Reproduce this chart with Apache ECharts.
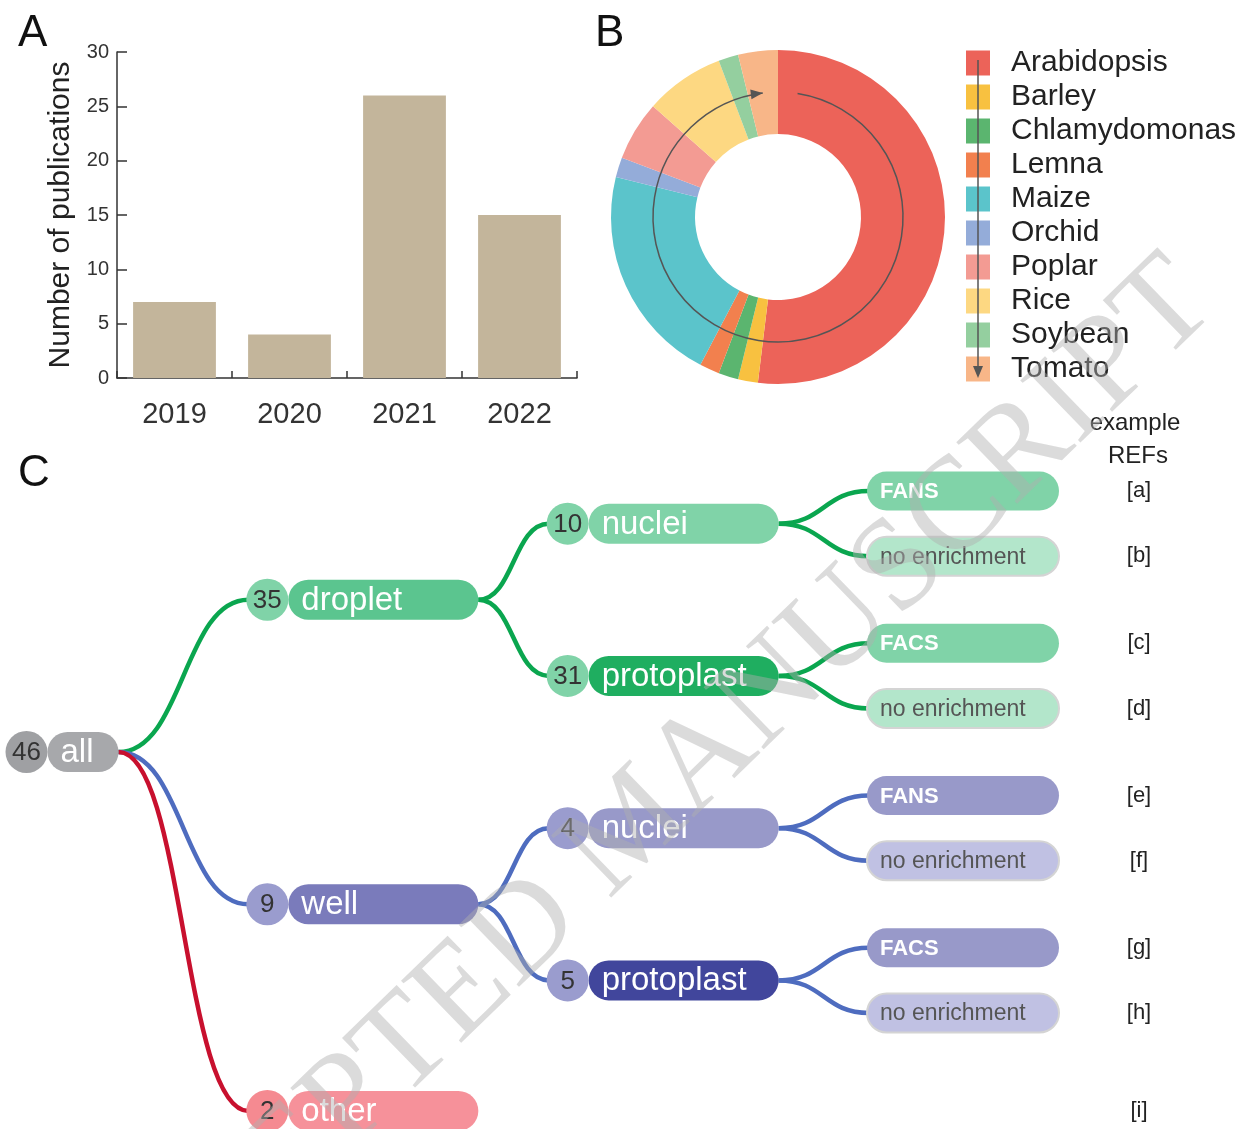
<!DOCTYPE html>
<html>
<head>
<meta charset="utf-8">
<script src="https://cdn.jsdelivr.net/npm/echarts@6.0.0/dist/echarts.min.js"></script>
<style>
  html, body { margin: 0; padding: 0; background: #fff; }
  #main { width: 1237px; height: 1129px; }
</style>
</head>
<body>
<div id="main"></div>
<script>
// A: publications per year
var years = ['2019', '2020', '2021', '2022'];
var pubCounts = [7, 4, 26, 15];

// B: species share
var species = ['Arabidopsis', 'Barley', 'Chlamydomonas', 'Lemna', 'Maize', 'Orchid', 'Poplar', 'Rice', 'Soybean', 'Tomato'];
var speciesCounts = [27, 1, 1, 1, 11, 1, 3, 4, 1, 2];

// C: method tree
var treeNames = ['all', 'droplet', 'well', 'other', 'nuclei', 'protoplast', 'nuclei', 'protoplast',
  'FANS', 'no enrichment', 'FACS', 'no enrichment', 'FANS', 'no enrichment', 'FACS', 'no enrichment'];
var treeCounts = [46, 35, 9, 2, 10, 31, 4, 5, null, null, null, null, null, null, null, null];
var treeParent = [-1, 0, 0, 0, 1, 1, 2, 2, 4, 4, 5, 5, 6, 6, 7, 7];
var treeDepth = [0, 1, 1, 1, 2, 2, 2, 2, 3, 3, 3, 3, 3, 3, 3, 3];
var treeRow = [12, 5, 19, 28.5, 1.5, 8.5, 15.5, 22.5, 0, 3, 7, 10, 14, 17, 21, 24];
var treeRefs = ['', '', '', '[i]', '', '', '', '', '[a]', '[b]', '[c]', '[d]', '[e]', '[f]', '[g]', '[h]'];

// styles
var speciesColors = ['#ec6359', '#f8c140', '#5bb56f', '#f2804e', '#5bc4cb', '#94acd9', '#f39b93', '#fdd882', '#94cf9f', '#f8b688'];
var pillFill = ['#a7a8ab', '#5bc58f', '#7a7bbb', '#f6919a', '#80d3a8', '#1fae60', '#9899c9', '#41469c',
  '#80d3a8', '#b3e6cb', '#80d3a8', '#b3e6cb', '#9899c9', '#c0c1e3', '#9899c9', '#c0c1e3'];
var badgeFill = ['#9fa0a3', '#80d3a8', '#9a9cce', '#f58a91', '#80d3a8', '#80d3a8', '#9a9cce', '#9a9cce'];
var branchColor = { 1: '#0aa64f', 2: '#4e6cbf', 3: '#c8102e' };
var pillW = [71, 190, 190, 192];
var BADGE = 42;
var FONT = 'Liberation Sans, Arial, sans-serif';

var pieCenter = [778, 217];

var chart = echarts.init(document.getElementById('main'));

function branchOf(i) {
  while (treeDepth[i] > 1) i = treeParent[i];
  return i;
}
function groupWidth(i) {
  return pillW[treeDepth[i]] + (treeCounts[i] != null ? BADGE : 0);
}

function renderLink(params, api) {
  var i = api.value(0);
  var p = treeParent[i];
  var a = api.coord([treeDepth[p], treeRow[p]]);
  var b = api.coord([treeDepth[i], treeRow[i]]);
  var x1 = a[0] + groupWidth(p) / 2, y1 = a[1];
  var x2 = b[0] - groupWidth(i) / 2 + 2, y2 = b[1];
  var xm = (x1 + x2) / 2;
  return {
    type: 'bezierCurve',
    shape: { x1: x1, y1: y1, x2: x2, y2: y2, cpx1: xm, cpy1: y1, cpx2: xm, cpy2: y2 },
    style: { stroke: branchColor[branchOf(i)], lineWidth: 4.5, fill: null }
  };
}

function renderNode(params, api) {
  var i = params.dataIndex;
  var c = api.coord([api.value(0), api.value(1)]);
  var d = treeDepth[i];
  var hasBadge = treeCounts[i] != null;
  var left = c[0] - groupWidth(i) / 2;
  var px = left + (hasBadge ? BADGE : 0);
  var h = d === 3 ? 39 : 40;
  var leaf = d === 3;
  var plain = treeNames[i] === 'no enrichment';
  var kids = [];
  kids.push({
    type: 'rect',
    shape: { x: px, y: c[1] - h / 2, width: pillW[d], height: h, r: h / 2 },
    style: { fill: pillFill[i], stroke: plain ? '#d4d4d4' : null, lineWidth: plain ? 2 : 0 }
  });
  kids.push({
    type: 'text',
    style: {
      text: treeNames[i], x: px + 13, y: c[1] + 1, verticalAlign: 'middle',
      fill: plain ? '#555' : '#fff', fontFamily: FONT,
      fontSize: leaf ? (plain ? 23 : 22) : 33, fontWeight: leaf && !plain ? 'bold' : 'normal'
    }
  });
  if (hasBadge) {
    kids.push({
      type: 'circle',
      shape: { cx: left + BADGE / 2, cy: c[1], r: BADGE / 2 },
      style: { fill: badgeFill[i] }
    });
    kids.push({
      type: 'text',
      style: {
        text: String(treeCounts[i]), x: left + BADGE / 2, y: c[1] + 1, align: 'center', verticalAlign: 'middle',
        fill: '#333', fontFamily: FONT, fontSize: 26
      }
    });
  }
  if (treeRefs[i]) {
    var r = api.coord([3, treeRow[i]]);
    kids.push({
      type: 'text',
      style: {
        text: treeRefs[i], x: r[0] + 176, y: c[1], align: 'center', verticalAlign: 'middle',
        fill: '#222', fontFamily: FONT, fontSize: 22
      }
    });
  }
  return { type: 'group', children: kids };
}

// circular arrow over the donut
var arcR = 125;
var arcStart = -81 * Math.PI / 180;
var arcEnd = 263 * Math.PI / 180;
var tipX = pieCenter[0] + arcR * Math.cos(arcEnd);
var tipY = pieCenter[1] + arcR * Math.sin(arcEnd);
var tx = -Math.sin(arcEnd), ty = Math.cos(arcEnd);
function arrowHead(x, y, dx, dy, len, half) {
  var bx = x - dx * len, by = y - dy * len;
  return [[x, y], [bx - dy * half, by + dx * half], [bx + dy * half, by - dx * half]];
}

var option = {
  animation: false,
  backgroundColor: '#fff',
  grid: [
    { left: 117, top: 52, width: 460, height: 326, containLabel: false, outerBoundsMode: 'none' },
    { left: 62, top: 491, width: 901, height: 619.875, containLabel: false, outerBoundsMode: 'none' }
  ],
  xAxis: [
    {
      gridIndex: 0, type: 'category', data: years,
      axisLine: { lineStyle: { color: '#333', width: 1.5 } },
      axisTick: { show: true, inside: true, length: 7, lineStyle: { color: '#333', width: 1.5 } },
      axisLabel: { fontSize: 29, color: '#333', margin: 22, fontFamily: FONT },
      splitLine: { show: false }
    },
    { gridIndex: 1, type: 'value', min: 0, max: 3, show: false }
  ],
  yAxis: [
    {
      gridIndex: 0, type: 'value', min: 0, max: 30, interval: 5,
      name: 'Number of publications', nameLocation: 'middle', nameGap: 41,
      nameTextStyle: { fontSize: 30, color: '#222', fontFamily: FONT },
      axisLine: { show: true, lineStyle: { color: '#333', width: 1.5 } },
      axisTick: { show: true, inside: true, length: 10, lineStyle: { color: '#333', width: 1.5 } },
      axisLabel: { fontSize: 20, color: '#333', margin: 8, fontFamily: FONT },
      splitLine: { show: false }
    },
    { gridIndex: 1, type: 'value', min: 0, max: 28.5, inverse: true, show: false }
  ],
  legend: {
    data: species, orient: 'vertical', left: 966, top: 48, padding: 0,
    icon: 'rect', itemWidth: 24, itemHeight: 25, itemGap: 4,
    textStyle: { fontSize: 30, color: '#222', lineHeight: 30, padding: [0, 0, 0, 16], fontFamily: FONT },
    selectedMode: false
  },
  series: [
    {
      type: 'bar', xAxisIndex: 0, yAxisIndex: 0, data: pubCounts, barWidth: '72%',
      itemStyle: { color: '#c3b59b' }
    },
    {
      type: 'pie', center: pieCenter, radius: [83, 167], startAngle: 90, clockwise: true,
      label: { show: false }, labelLine: { show: false },
      itemStyle: { borderWidth: 0 },
      data: species.map(function (s, i) { return { name: s, value: speciesCounts[i], itemStyle: { color: speciesColors[i] } }; })
    },
    {
      type: 'custom', xAxisIndex: 1, yAxisIndex: 1, clip: false, z: 3,
      data: treeParent.map(function (p, i) { return [i]; }).filter(function (d) { return treeParent[d[0]] >= 0; }),
      encode: { x: [], y: [] },
      renderItem: renderLink
    },
    {
      type: 'custom', xAxisIndex: 1, yAxisIndex: 1, clip: false, z: 4,
      data: treeDepth.map(function (d, i) { return [d, treeRow[i]]; }),
      encode: { x: 0, y: 1 },
      renderItem: renderNode
    }
  ],
  graphic: [
    { type: 'text', left: 18, top: 12, style: { text: 'A', fontSize: 44, fill: '#111', fontFamily: FONT } },
    { type: 'text', left: 595, top: 12, style: { text: 'B', fontSize: 44, fill: '#111', fontFamily: FONT } },
    { type: 'text', left: 18, top: 452, style: { text: 'C', fontSize: 44, fill: '#111', fontFamily: FONT } },
    { type: 'text', x: 1135, y: 423, style: { text: 'example', fontSize: 24, fill: '#222', align: 'center', verticalAlign: 'middle', fontFamily: FONT } },
    { type: 'text', x: 1138, y: 456, style: { text: 'REFs', fontSize: 24, fill: '#222', align: 'center', verticalAlign: 'middle', fontFamily: FONT } },
    {
      type: 'arc', z: 10, silent: true,
      shape: { cx: pieCenter[0], cy: pieCenter[1], r: arcR, startAngle: arcStart, endAngle: arcEnd, clockwise: true },
      style: { stroke: '#555', lineWidth: 1.5, fill: null }
    },
    {
      type: 'polygon', z: 10, silent: true,
      shape: { points: arrowHead(tipX, tipY, tx, ty, 12, 5) },
      style: { fill: '#555' }
    },
    { type: 'line', z: 10, silent: true, shape: { x1: 978, y1: 60, x2: 978, y2: 372 }, style: { stroke: '#555', lineWidth: 1.5 } },
    {
      type: 'polygon', z: 10, silent: true,
      shape: { points: arrowHead(978, 378, 0, 1, 12, 5) },
      style: { fill: '#555' }
    },
    {
      type: 'text', z: 100, silent: true, x: 633, y: 828, rotation: 0.77,
      style: {
        text: 'ACCEPTED MANUSCRIPT', fontSize: 132, fontFamily: 'Liberation Serif, Times New Roman, serif',
        fill: 'rgba(175,175,175,0.45)', align: 'center', verticalAlign: 'middle'
      }
    }
  ]
};

chart.setOption(option);
</script>
</body>
</html>
